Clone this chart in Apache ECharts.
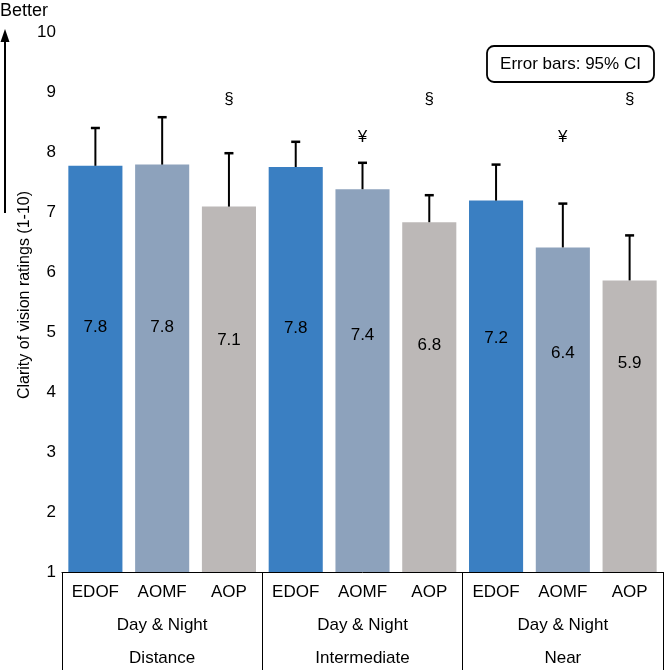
<!DOCTYPE html>
<html>
<head>
<meta charset="utf-8">
<script src="https://cdn.jsdelivr.net/npm/echarts@6/dist/echarts.min.js"></script>
<style>
html,body{margin:0;padding:0;background:#fff;}
#chart{width:672px;height:670px;}
</style>
</head>
<body>
<div id="chart"></div>
<script>
// ---- data ----
var lenses = ['EDOF', 'AOMF', 'AOP', 'EDOF', 'AOMF', 'AOP', 'EDOF', 'AOMF', 'AOP'];
var conditions = ['Day & Night', 'Day & Night', 'Day & Night'];
var groups = ['Distance', 'Intermediate', 'Near'];
var means = [7.77, 7.79, 7.09, 7.75, 7.38, 6.83, 7.19, 6.41, 5.86];
var upperCI = [8.40, 8.58, 7.98, 8.17, 7.82, 7.28, 7.79, 7.14, 6.61];
var markers = ['', '', '§', '', '¥', '§', '', '¥', '§'];
var yTicks = [1, 2, 3, 4, 5, 6, 7, 8, 9, 10];

// ---- styles ----
var FONT = '"Liberation Sans", Arial, sans-serif';
var FS = 17;
var lensColors = {EDOF: '#3A7FC2', AOMF: '#8DA2BC', AOP: '#BCB8B7'};
var markerLevel = {'§': 8.88, '¥': 8.25};

var chart = echarts.init(document.getElementById('chart'), null, {renderer: 'canvas'});

var barData = means.map(function (v, i) {
  return {value: v, itemStyle: {color: lensColors[lenses[i]]}};
});

var customData = means.map(function (v, i) { return [i, v, upperCI[i]]; });

var option = {
  animation: false,
  backgroundColor: '#ffffff',
  textStyle: {fontFamily: FONT},
  grid: {left: 62, right: 9, top: 32, bottom: 98, containLabel: false},
  xAxis: [
    {
      type: 'category', data: lenses, position: 'bottom',
      axisLine: {show: true, lineStyle: {color: '#000', width: 1}},
      axisTick: {show: false},
      axisLabel: {fontSize: FS, color: '#000', margin: 12, fontFamily: FONT, interval: 0},
      splitLine: {show: false}
    },
    {
      type: 'category', data: groups, position: 'bottom', gridIndex: 0,
      axisLine: {show: false},
      axisTick: {show: true, length: 100, interval: 0, alignWithLabel: false, lineStyle: {color: '#000', width: 1}},
      axisLabel: {fontSize: FS, color: '#000', margin: 45, fontFamily: FONT, interval: 0,
        formatter: function (v, i) { return conditions[i]; }},
      splitLine: {show: false}
    },
    {
      type: 'category', data: groups, position: 'bottom', gridIndex: 0,
      axisLine: {show: false},
      axisTick: {show: false},
      axisLabel: {fontSize: FS, color: '#000', margin: 78, fontFamily: FONT, interval: 0},
      splitLine: {show: false}
    }
  ],
  yAxis: {
    type: 'value', min: yTicks[0], max: yTicks[yTicks.length - 1], interval: 1,
    axisLine: {show: false}, axisTick: {show: false}, splitLine: {show: false},
    axisLabel: {fontSize: FS, color: '#000', margin: 6, fontFamily: FONT},
    name: 'Clarity of vision ratings (1-10)', nameLocation: 'middle', nameRotate: 90, nameGap: 29,
    nameMoveOverlap: false,
    nameTextStyle: {fontSize: 16, color: '#000', fontFamily: FONT, padding: [0, 0, 0, 14]}
  },
  series: [
    {
      type: 'bar', xAxisIndex: 0, data: barData, barCategoryGap: '19%',
      silent: true
    },
    {
      type: 'custom', xAxisIndex: 0, data: customData, z: 5, silent: true,
      renderItem: function (params, api) {
        var i = api.value(0), v = api.value(1), up = api.value(2);
        var base = api.coord([i, v]);
        var top = api.coord([i, up]);
        var labelPos = api.coord([i, 0.316 * v + 2.62]);
        var children = [
          {type: 'line', shape: {x1: base[0], y1: base[1], x2: top[0], y2: top[1]},
            style: {stroke: '#000', lineWidth: 2}},
          {type: 'line', shape: {x1: top[0] - 4.5, y1: top[1], x2: top[0] + 4.5, y2: top[1]},
            style: {stroke: '#000', lineWidth: 2.5}},
          {type: 'text', x: labelPos[0], y: labelPos[1],
            style: {text: v.toFixed(1), fill: '#000', font: FS + 'px ' + FONT, align: 'center', verticalAlign: 'middle'}}
        ];
        var m = markers[params.dataIndex];
        if (m) {
          var mp = api.coord([i, markerLevel[m]]);
          children.push({type: 'text', x: mp[0], y: mp[1],
            style: {text: m, fill: '#000', font: FS + 'px ' + FONT, align: 'center', verticalAlign: 'middle'}});
        }
        return {type: 'group', children: children};
      }
    }
  ],
  graphic: [
    {type: 'text', left: 0, top: 2, style: {text: 'Better', font: '18px ' + FONT, fill: '#000'}},
    {type: 'line', shape: {x1: 5, y1: 40, x2: 5, y2: 213}, style: {stroke: '#000', lineWidth: 2}},
    {type: 'polygon', shape: {points: [[5, 29], [0.5, 42], [9.5, 42]]}, style: {fill: '#000'}},
    {type: 'rect', shape: {x: 487, y: 46, width: 167, height: 36, r: 7},
      style: {fill: '#fff', stroke: '#000', lineWidth: 1.8}},
    {type: 'text', x: 570.5, y: 64,
      style: {text: 'Error bars: 95% CI', font: FS + 'px ' + FONT, fill: '#000', align: 'center', verticalAlign: 'middle'}}
  ]
};
chart.setOption(option);
</script>
</body>
</html>
